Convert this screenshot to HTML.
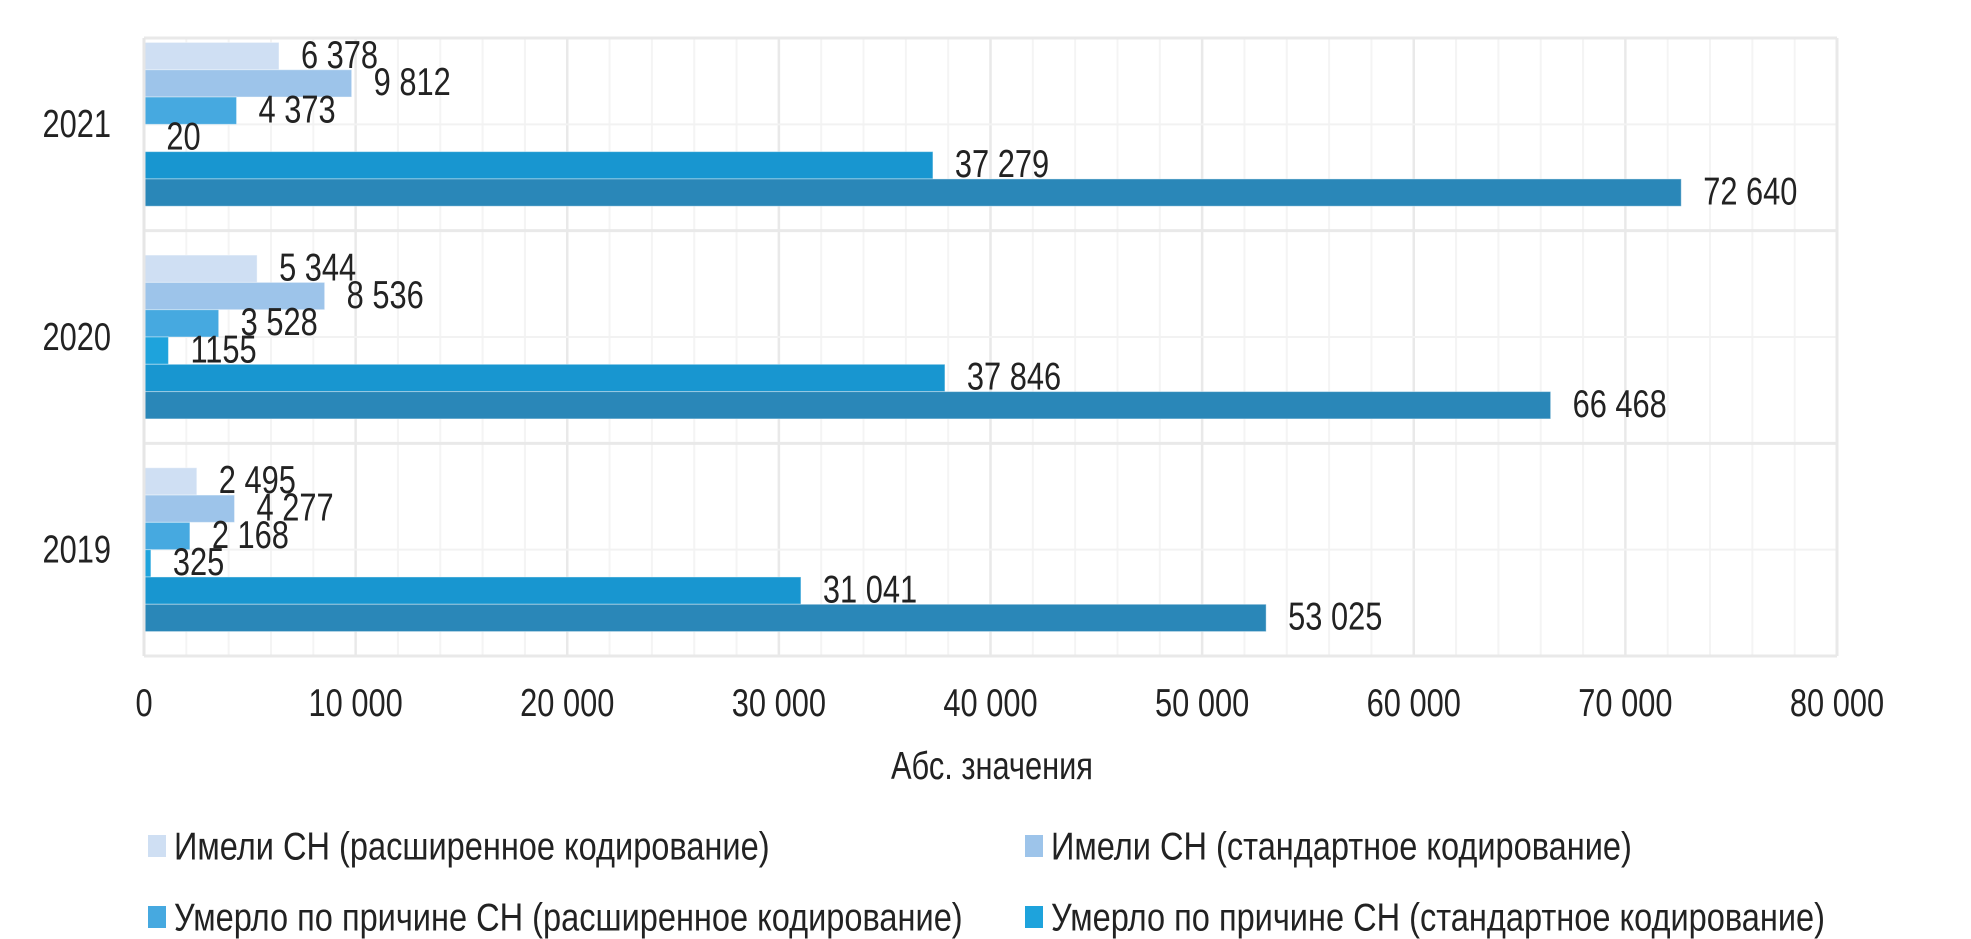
<!DOCTYPE html>
<html><head><meta charset="utf-8">
<style>
html,body{margin:0;padding:0;background:#fff;}
svg{display:block;font-family:"Liberation Sans",sans-serif;}
</style></head>
<body>
<svg id="chart" width="1971" height="939" viewBox="0 0 1971 939" xmlns="http://www.w3.org/2000/svg">
<g id="grid"></g>
<g id="bars"></g>
<g id="labels"></g>
<g id="axes"></g>
<text transform="translate(992,766) scale(0.79,1)" text-anchor="middle" dominant-baseline="central" font-size="39" fill="#222">Абс. значения</text>
<g id="legend"></g>
</svg>
<script>
const categories = ["2021","2020","2019"];
const s1 = [6378, 5344, 2495];
const s2 = [9812, 8536, 4277];
const s3 = [4373, 3528, 2168];
const s4 = [20, 1155, 325];
const s5 = [37279, 37846, 31041];
const s6 = [72640, 66468, 53025];
const xTicks = [0,10000,20000,30000,40000,50000,60000,70000,80000];
const xTickLabels = ["0","10 000","20 000","30 000","40 000","50 000","60 000","70 000","80 000"];
const legendNames = ["Имели СН (расширенное кодирование)","Имели СН (стандартное кодирование)","Умерло по причине СН (расширенное кодирование)","Умерло по причине СН (стандартное кодирование)"];

const NS="http://www.w3.org/2000/svg";
const L=144,R=1837,T=18,B=656,TOPLINE=38,XMAX=80000,SX=0.79,FS=39;
const colors=["#cfdff3","#9dc4ea","#46a9e0","#1ea3dc","#1896d0","#2a87b8"];
const series=[s1,s2,s3,s4,s5,s6];
const band=(B-T)/categories.length, barH=27.3, pad=(band-barH*6)/2;
function x(v){return L+(R-L)*v/XMAX;}
function mk(tag,attrs,parent){const e=document.createElementNS(NS,tag);for(const k in attrs)e.setAttribute(k,attrs[k]);parent.appendChild(e);return e;}
function fmt(v){return v===1155?"1155":v.toLocaleString("ru-RU").replace(/\u00a0|\u202f/g," ");}
function txt(px,py,anchor,parent,sx){return mk("text",{transform:"translate("+px+","+py+") scale("+(sx||SX)+",1)","text-anchor":anchor,"dominant-baseline":"central","font-size":FS,fill:"#222"},parent);}

const grid=document.getElementById("grid");
for(let v=0;v<=XMAX;v+=2000){
  const l=mk("line",{x1:x(v),x2:x(v),y1:TOPLINE,y2:B,stroke:v%10000===0?"#e9e9e9":"#f4f4f4","stroke-width":v%10000===0?2.5:2},grid);
  
  
}
for(let i=0;i<categories.length;i++){
  const ym=T+band*(i+0.5);
  const l=mk("line",{x1:L,x2:R,y1:ym,y2:ym,stroke:"#f2f2f2","stroke-width":2},grid);
  
  
}
for(let i=0;i<=categories.length;i++){
  const y=i===0?TOPLINE:T+band*i;
  const l=mk("line",{x1:L,x2:R,y1:y,y2:y,stroke:"#e9e9e9","stroke-width":3},grid);
  
  
}
const rb=mk("line",{x1:R,x2:R,y1:TOPLINE,y2:B,stroke:"#e9e9e9","stroke-width":3},grid);



const bars=document.getElementById("bars"),labels=document.getElementById("labels");
categories.forEach((c,i)=>{
  series.forEach((s,j)=>{
    const y=T+band*i+pad+barH*j;
    const r=mk("rect",{x:L,y:y,width:Math.max(0,x(s[i])-L),height:barH,fill:colors[j],stroke:"#fff","stroke-opacity":0.4,"stroke-width":1},bars);
    
    
    const t=txt(x(s[i])+22,y+barH/2-1,"start",labels);
    t.textContent=fmt(s[i]);
    
    
  });
  const t=txt(111,T+band*(i+0.5),"end",document.getElementById("axes"));
  t.textContent=c;
  
  
});
const ax=mk("line",{x1:L,x2:L,y1:TOPLINE,y2:B,stroke:"#e6e6e6","stroke-width":3},document.getElementById("axes"));


xTicks.forEach((v,k)=>{
  const t=txt(x(v),703,"middle",document.getElementById("axes"));
  t.textContent=xTickLabels[k];
  
  
});
const lg=document.getElementById("legend");
const lpos=[[148,846],[1025,846],[148,917],[1025,917]];
legendNames.forEach((n,k)=>{
  const g=mk("g",{},lg);
  
  
  mk("rect",{x:lpos[k][0],y:lpos[k][1]-11,width:18,height:22,fill:colors[k]},g);
  const t=txt(lpos[k][0]+26,lpos[k][1],"start",g,0.835);
  t.textContent=n;
});
</script>
</body></html>
